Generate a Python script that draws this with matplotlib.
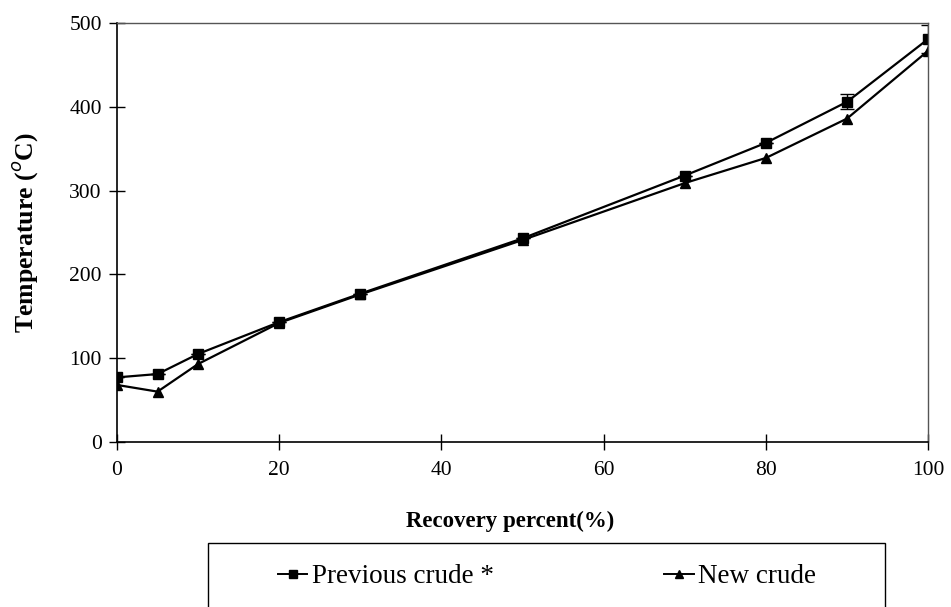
import matplotlib
matplotlib.use("Agg")
import matplotlib.pyplot as plt
from matplotlib.patches import Rectangle
from matplotlib.lines import Line2D

recovery = [0, 5, 10, 20, 30, 50, 70, 80, 90, 100]
previous_crude = [77, 81, 105, 143, 177, 243, 318, 357, 406, 481]
previous_err = [0, 0, 0, 0, 0, 0, 0, 0, 9, 17]
new_crude = [68, 60, 93, 142, 176, 241, 309, 339, 386, 467]

x_ticks = [0, 20, 40, 60, 80, 100]
y_ticks = [0, 100, 200, 300, 400, 500]
series_labels = ["Previous crude *", "New crude"]

plt.rcParams["font.family"] = ["Liberation Serif", "DejaVu Serif"]

fig = plt.figure(figsize=(9.51, 6.07), dpi=100)
ax = fig.add_axes([0.123, 0.272, 0.853, 0.690])

ax.errorbar(recovery, previous_crude, yerr=previous_err, color="black",
            marker="s", markersize=7.5, linewidth=1.6, capsize=5,
            elinewidth=1.0, capthick=1.0)
ax.plot(recovery, new_crude, color="black", marker="^", markersize=7.5,
        linewidth=1.6)

ax.set_xlim(0, 100)
ax.set_ylim(0, 500)
ax.set_xticks(x_ticks)
ax.set_yticks(y_ticks)
ax.tick_params(axis="both", direction="inout", length=12, width=1.0,
               labelsize=15.5, colors="black")
ax.tick_params(axis="x", pad=8)
ax.tick_params(axis="y", pad=5)

for side in ("left", "bottom"):
    ax.spines[side].set_linewidth(1.2)
    ax.spines[side].set_color("black")
for side in ("top", "right"):
    ax.spines[side].set_linewidth(1.0)
    ax.spines[side].set_color("#555555")

ax.set_xlabel("Recovery percent(%)", fontsize=16.5, fontweight="bold")
ax.xaxis.set_label_coords(0.485, -0.165)
ax.set_ylabel("Temperature ($^o$C)", fontsize=18.5, fontweight="bold")
ax.yaxis.set_label_coords(-0.095, 0.5)

# legend frame below the plot, running off the bottom edge
frame = Rectangle((0.219, -0.05), 0.712, 0.155, transform=fig.transFigure,
                  fill=False, edgecolor="black", linewidth=1.0)
fig.add_artist(frame)

handles = [
    Line2D([], [], color="black", marker="s", markersize=6, linewidth=1.4),
    Line2D([], [], color="black", marker="^", markersize=6, linewidth=1.4),
]
fig.legend(handles, series_labels, loc="center", bbox_to_anchor=(0.575, 0.05),
           ncol=2, frameon=False, fontsize=19.5, handlelength=1.1,
           handletextpad=0.15, columnspacing=6.3)

fig.savefig("out.png", dpi=100)
